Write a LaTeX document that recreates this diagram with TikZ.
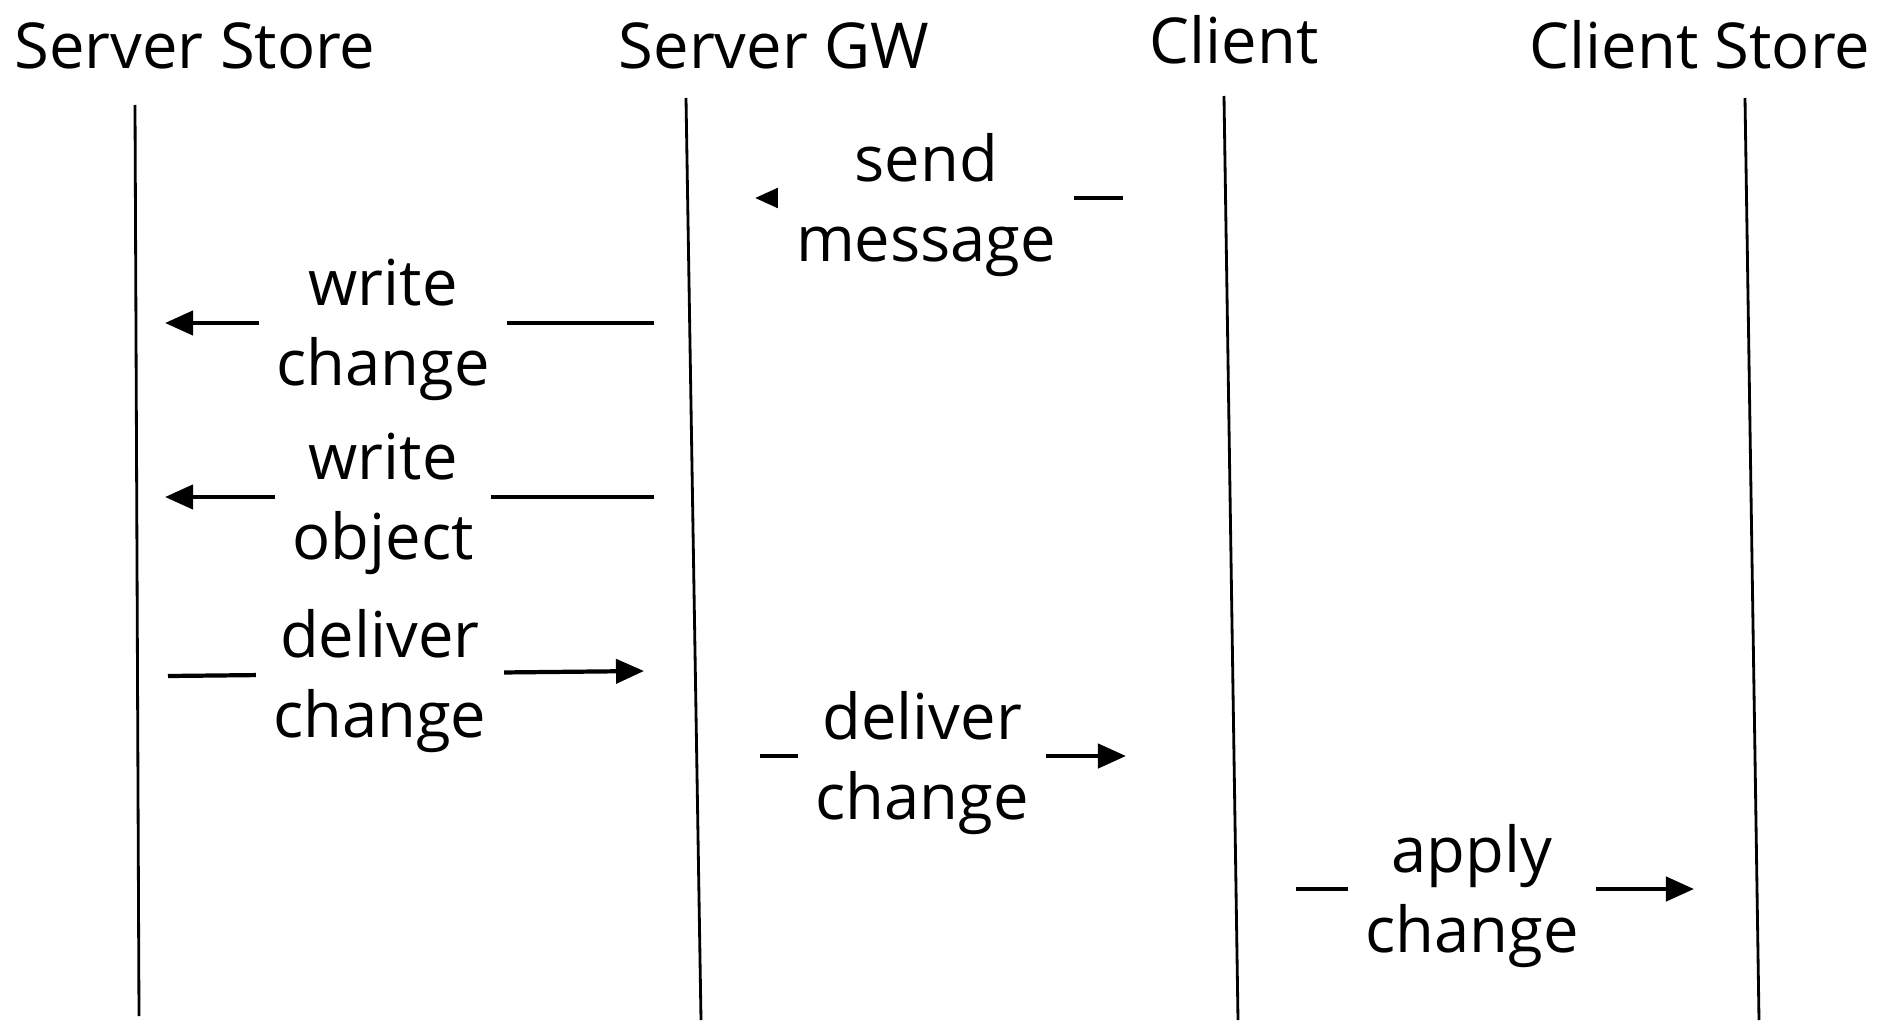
\documentclass[tikz,border=0pt]{standalone}
\usepackage{fontspec}
\setmainfont{Open Sans}
\usetikzlibrary{arrows.meta}

\begin{document}
\begin{tikzpicture}[
    x=0.01cm, y=-0.01cm,
    every node/.style={font=\fontsize{18}{22.8}\selectfont},
    actor/.style={anchor=base},
    lifeline/.style={line width=0.8pt},
    msg/.style={-{Triangle[length=2.8mm, width=2.4mm]}, line width=1.2pt},
    lbl/.style={fill=white, align=center, inner xsep=5pt, inner ysep=1pt, yshift=-0.07cm}
]
    \useasboundingbox (0,0) rectangle (1878,1021);

    % Participants
    \node[actor] (sstore) at (195,68) {Server Store};
    \node[actor] (sgw) at (774,68) {Server GW};
    \node[actor] (client) at (1234,63) {Client};
    \node[actor] (cstore) at (1700,68) {Client Store};

    % Lifelines
    \coordinate (sstoreTop) at (135,105);
    \coordinate (sstoreBot) at (139,1016);
    \coordinate (sgwTop) at (686,98);
    \coordinate (sgwBot) at (701,1020);
    \coordinate (clientTop) at (1224,96);
    \coordinate (clientBot) at (1238,1020);
    \coordinate (cstoreTop) at (1745,98);
    \coordinate (cstoreBot) at (1759,1020);
    \draw[lifeline] (sstoreTop) -- (sstoreBot);
    \draw[lifeline] (sgwTop) -- (sgwBot);
    \draw[lifeline] (clientTop) -- (clientBot);
    \draw[lifeline] (cstoreTop) -- (cstoreBot);

    % Message ends
    \coordinate (sendA) at (1123,198);
    \coordinate (sendB) at (755,198);
    \coordinate (wchA) at (654,323);
    \coordinate (wchB) at (165,323);
    \coordinate (wobA) at (654,497);
    \coordinate (wobB) at (165,497);
    \coordinate (dchA) at (168,676);
    \coordinate (dchB) at (644,671);
    \coordinate (dcdA) at (760,756);
    \coordinate (dcdB) at (1126,756);
    \coordinate (apA) at (1296,889);
    \coordinate (apB) at (1694,889);

    % Messages
    \draw[msg] (sendA) -- (sendB) node[lbl, pos=0.535] (send) {send\\message};
    \draw[msg] (wchA) -- (wchB) node[lbl, pos=0.554] (wchange) {write\\change};
    \draw[msg] (wobA) -- (wobB) node[lbl, pos=0.554] (wobject) {write\\object};
    \draw[msg] (dchA) -- (dchB) node[lbl, pos=0.445] (dserver) {deliver\\change};
    \draw[msg] (dcdA) -- (dcdB) node[lbl, pos=0.443] (dclient) {deliver\\change};
    \draw[msg] (apA) -- (apB) node[lbl, pos=0.442] (apply) {apply\\change};

\end{tikzpicture}
\end{document}
